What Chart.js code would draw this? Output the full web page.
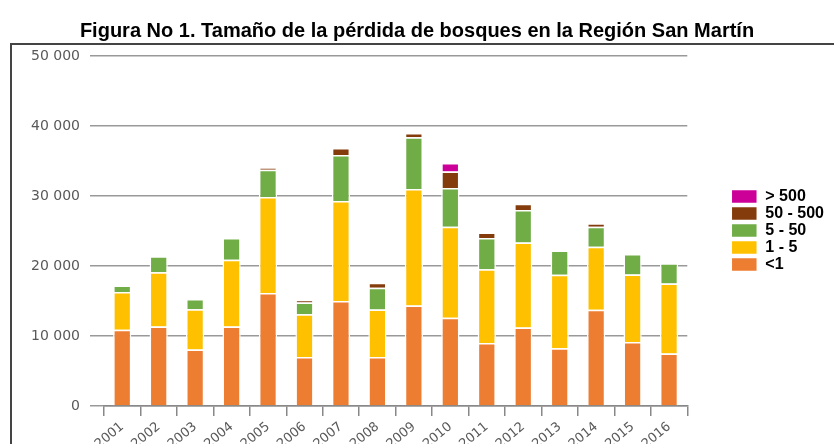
<!DOCTYPE html>
<html>
<head>
<meta charset="utf-8">
<script src="https://cdn.jsdelivr.net/npm/chart.js@4.4.1/dist/chart.umd.min.js"></script>
<style>
  html, body { margin: 0; padding: 0; background: #fff; overflow: hidden; }
  #wrap { position: relative; width: 834px; height: 444px; }
  #frame { position: absolute; left: 10px; top: 43px; right: -5px; bottom: -5px;
           border-top: 2px solid #444; border-left: 2px solid #444; pointer-events: none; }
</style>
</head>
<body>
<div id="wrap">
  <canvas id="chart" width="834" height="444"></canvas>
  <div id="frame"></div>
</div>
<script>
const years = ['2001','2002','2003','2004','2005','2006','2007','2008',
               '2009','2010','2011','2012','2013','2014','2015','2016'];
// hectares by patch size (ha)
const lt1     = [10900, 11350, 8070, 11350, 16150, 7000, 15000, 7000, 14350, 12600, 9000, 11200, 8250, 13750, 9150, 7500];
const s1to5   = [5400, 7750, 5750, 9550, 13700, 6100, 14300, 6800, 16650, 13000, 10550, 12150, 10500, 9000, 9650, 10000];
const s5to50  = [900, 2300, 1450, 3100, 3900, 1700, 6550, 3100, 7400, 5550, 4450, 4650, 3450, 2850, 2900, 2900];
const s50to500 = [0, 0, 0, 0, 300, 300, 1000, 700, 600, 2350, 800, 900, 0, 500, 0, 0];
const gt500   = [0, 0, 0, 0, 0, 0, 0, 0, 0, 1200, 0, 0, 0, 0, 0, 0];

const yTicks = [0, 10000, 20000, 30000, 40000, 50000];

function fmt(v) {
    return String(v).replace(/\B(?=(\d{3})+(?!\d))/g, ' ');
}

function ds(label, data, color) {
    return {
        label: label, data: data, backgroundColor: color,
        borderColor: '#ffffff', borderWidth: 1.5,
        barPercentage: 0.5, categoryPercentage: 1
    };
}

const ctx = document.getElementById('chart').getContext('2d');
new Chart(ctx, {
    type: 'bar',
    data: {
        labels: years,
        datasets: [
            ds('<1', lt1, '#ED7D31'),
            ds('1 - 5', s1to5, '#FFC000'),
            ds('5 - 50', s5to50, '#70AD47'),
            ds('50 - 500', s50to500, '#843C0C'),
            ds('> 500', gt500, '#CC0099')
        ]
    },
    options: {
        responsive: false,
        animation: false,
        layout: { padding: 0 },
        plugins: {
            title: {
                display: true,
                text: 'Figura No 1. Tamaño de la pérdida de bosques en la Región San Martín',
                color: '#000',
                font: { family: '"Liberation Sans", Arial', size: 20, weight: 'bold' },
                padding: { top: 19, bottom: 13 }
            },
            legend: {
                position: 'right',
                reverse: true,
                title: { display: true, text: ' ', font: { size: 1 }, padding: 8 },
                labels: {
                    boxWidth: 26, boxHeight: 14, padding: 1,
                    color: '#000',
                    font: { family: '"Liberation Sans", Arial', size: 16, weight: 'bold' }
                }
            },
            tooltip: { enabled: false }
        },
        scales: {
            x: {
                stacked: true,
                grid: { offset: true, drawOnChartArea: false, tickLength: 10, color: '#888', lineWidth: 1.5 },
                border: { display: true, color: '#888', width: 1.5 },
                ticks: {
                    color: '#595959', maxRotation: 40, minRotation: 40,
                    font: { family: '"DejaVu Sans", Arial', size: 13 }
                },
                afterFit: s => { s.height = 38; }
            },
            y: {
                stacked: true,
                min: 0, max: 50000,
                afterBuildTicks: s => { s.ticks = yTicks.map(v => ({ value: v })); },
                grid: { color: '#999', lineWidth: 1.5, tickLength: 14 },
                border: { display: false },
                ticks: {
                    color: '#595959', padding: 10,
                    font: { family: '"DejaVu Sans", Arial', size: 14 },
                    callback: v => fmt(v)
                },
                afterFit: s => { s.width = 104; }
            },
            gap: {
                position: 'right',
                display: true,
                grid: { display: false },
                border: { display: false },
                ticks: { display: false },
                afterFit: s => { s.width = 43; }
            }
        }
    }
});
</script>
</body>
</html>
